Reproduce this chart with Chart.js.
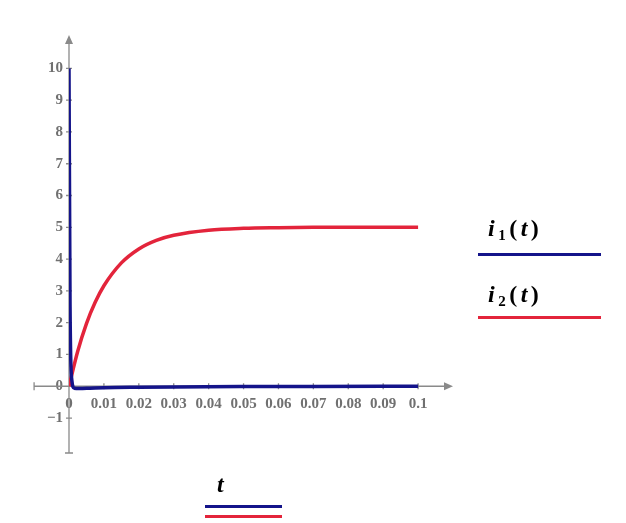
<!DOCTYPE html>
<html>
<head>
<meta charset="utf-8">
<script src="https://cdn.jsdelivr.net/npm/chart.js@4"></script>
<style>
  body { margin: 0; background: #fff; }
  #wrap { position: relative; width: 626px; height: 523px; }
  .lbl { position: absolute; font-family: "Liberation Serif", serif; font-size: 24px; font-weight: bold; color: #000; white-space: nowrap; line-height: 1; letter-spacing: 3.5px; }
  .lbl sub { font-size: 15px; vertical-align: -4px; line-height: 0; }
  .traco { position: absolute; height: 3px; }
</style>
</head>
<body>
<div id="wrap">
  <canvas id="grafico" width="626" height="523"></canvas>
  <div class="lbl" style="left:488px; top:216px"><i>i</i><sub>1</sub>(<i>t</i>)</div>
  <div class="traco" style="left:478px; top:253px; width:123px; background:#14148a"></div>
  <div class="lbl" style="left:488px; top:282px"><i>i</i><sub>2</sub>(<i>t</i>)</div>
  <div class="traco" style="left:478px; top:316px; width:123px; background:#e3243b"></div>
  <div class="lbl" style="left:217px; top:472px"><i>t</i></div>
  <div class="traco" style="left:205px; top:505px; width:77px; background:#14148a"></div>
  <div class="traco" style="left:205px; top:515px; width:77px; background:#e3243b"></div>
</div>
<script>
// ========== DADOS ==========
const tempoI1 = [0, 0.0003, 0.0008, 0.0015, 0.003, 0.006, 0.01, 0.02, 0.03, 0.05, 0.07, 0.1];
const valoresI1 = [10, 2.5, 0.2, -0.06, -0.07, -0.06, -0.045, -0.03, -0.02, -0.01, -0.005, 0];

const tempoI2 = [0, 0.0025, 0.005, 0.0075, 0.01, 0.015, 0.02, 0.025, 0.03, 0.04, 0.05, 0.06, 0.07, 0.08, 0.09, 0.1];
const valoresI2 = [0, 1.1, 1.97, 2.64, 3.16, 3.88, 4.32, 4.59, 4.75, 4.91, 4.97, 4.99, 5, 5, 5, 5];

const ticksX = [0, 0.01, 0.02, 0.03, 0.04, 0.05, 0.06, 0.07, 0.08, 0.09, 0.1];
const rotulosX = ["0", "0.01", "0.02", "0.03", "0.04", "0.05", "0.06", "0.07", "0.08", "0.09", "0.1"];
const ticksY = [-1, 0, 1, 2, 3, 4, 5, 6, 7, 8, 9, 10];
const rotulosY = ["\u22121", "0", "1", "2", "3", "4", "5", "6", "7", "8", "9", "10"];

const corEixo = "#8a8a8a";
const corRotulo = "#707070";
const fonteTicks = { family: "Liberation Serif", size: 15, weight: "bold" };

// ========== PLUGIN DOS EIXOS (linhas, setas, marcas) ==========
const eixosPlugin = {
  id: "eixos",
  beforeDatasetsDraw(chart) {
    const { ctx, scales } = chart;
    const sx = scales.x, sy = scales.y;
    const x0 = sx.getPixelForValue(0);
    const y0 = sy.getPixelForValue(0);
    const xEsq = sx.getPixelForValue(-0.01);
    const xDir = sx.getPixelForValue(sx.max);
    const yTopo = sy.getPixelForValue(sy.max);
    const yBase = sy.getPixelForValue(sy.min);

    ctx.save();
    ctx.strokeStyle = corEixo;
    ctx.fillStyle = corEixo;
    ctx.lineWidth = 1.3;

    // linhas
    ctx.beginPath();
    ctx.moveTo(xEsq, y0); ctx.lineTo(xDir - 6, y0);
    ctx.moveTo(x0, yBase); ctx.lineTo(x0, yTopo + 6);
    // tampas
    ctx.moveTo(xEsq, y0 - 4); ctx.lineTo(xEsq, y0 + 4);
    ctx.moveTo(x0 - 4, yBase); ctx.lineTo(x0 + 4, yBase);
    // marcas
    ticksX.forEach((v) => {
      if (v === 0) return;
      const px = sx.getPixelForValue(v);
      ctx.moveTo(px, y0 - 3); ctx.lineTo(px, y0 + 3);
    });
    ticksY.forEach((v) => {
      if (v === 0) return;
      const py = sy.getPixelForValue(v);
      ctx.moveTo(x0 - 3, py); ctx.lineTo(x0 + 3, py);
    });
    ctx.stroke();

    // setas
    ctx.beginPath();
    ctx.moveTo(xDir, y0); ctx.lineTo(xDir - 9, y0 - 4); ctx.lineTo(xDir - 9, y0 + 4); ctx.closePath();
    ctx.moveTo(x0, yTopo); ctx.lineTo(x0 - 4, yTopo + 9); ctx.lineTo(x0 + 4, yTopo + 9); ctx.closePath();
    ctx.fill();
    ctx.restore();
  },
};

// ========== GRÁFICO ==========
function criarGrafico() {
  const ctx = document.getElementById("grafico").getContext("2d");

  new Chart(ctx, {
    type: "line",
    data: {
      datasets: [
        {
          label: "i1(t)",
          data: tempoI1.map((t, i) => ({ x: t, y: valoresI1[i] })),
          borderColor: "#14148a",
          borderWidth: 3.5,
          pointRadius: 0,
          cubicInterpolationMode: "monotone",
        },
        {
          label: "i2(t)",
          data: tempoI2.map((t, i) => ({ x: t, y: valoresI2[i] })),
          borderColor: "#e3243b",
          borderWidth: 3.5,
          pointRadius: 0,
          cubicInterpolationMode: "monotone",
        },
      ],
    },
    options: {
      responsive: false,
      animation: false,
      layout: { padding: { left: 34, top: 35, right: 173, bottom: 70 } },
      plugins: {
        legend: { display: false },
        tooltip: { enabled: false },
      },
      scales: {
        x: {
          type: "linear",
          position: { y: 0 },
          min: 0,
          max: 0.11,
          afterBuildTicks: (s) => { s.ticks = ticksX.map((v) => ({ value: v })); },
          ticks: {
            autoSkip: false,
            maxRotation: 0,
            padding: 1,
            color: corRotulo,
            font: fonteTicks,
            callback: (v, i) => rotulosX[i],
          },
          grid: { display: false },
          border: { display: false },
        },
        y: {
          type: "linear",
          position: "left",
          min: -2.1,
          max: 11.05,
          afterFit: (s) => { s.width = 35; },
          afterBuildTicks: (s) => { s.ticks = ticksY.map((v) => ({ value: v })); },
          ticks: {
            autoSkip: false,
            padding: 6,
            color: corRotulo,
            font: fonteTicks,
            callback: (v, i) => rotulosY[i],
          },
          grid: { display: false, drawTicks: false },
          border: { display: false },
        },
      },
    },
    plugins: [eixosPlugin],
  });
}

document.addEventListener("DOMContentLoaded", function () {
  criarGrafico();
});
</script>
</body>
</html>
